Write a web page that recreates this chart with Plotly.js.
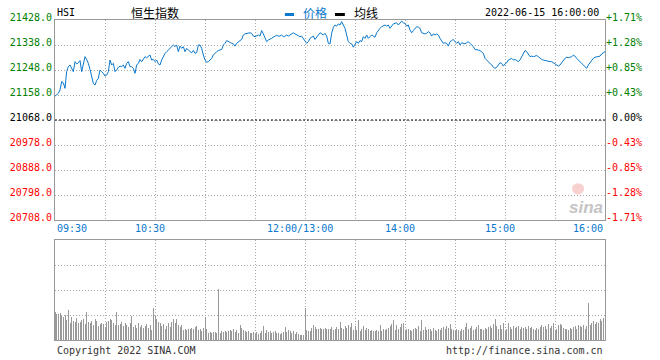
<!DOCTYPE html>
<html><head><meta charset="utf-8">
<script src="https://cdn.plot.ly/plotly-3.0.1.min.js"></script>
<style>html,body{margin:0;padding:0;background:#fff}#chart{width:660px;height:360px}</style>
</head><body><div id="chart"></div>
<script>
const prevClose = 21068;
const priceTicks = [20708, 20798, 20888, 20978, 21068, 21158, 21248, 21338, 21428];
const priceTickText = ['20708.0','20798.0','20888.0','20978.0','21068.0','21158.0','21248.0','21338.0','21428.0'];
const pctTickText = ['-1.71%','-1.28%','-0.85%','-0.43%','\u00a00.00%','+0.43%','+0.85%','+1.28%','+1.71%'];
const timeTickMinutes = [0, 60, 150, 210, 270, 330];
const timeTickText = ['09:30','10:30','12:00/13:00','14:00','15:00','16:00'];

// one value per trading minute, 09:30 ... 16:00 (lunch break removed)
const prices = [
21154,21158,21164,21176,21206,21202,21182,21242,21260,21266,
21254,21242,21278,21270,21274,21282,21242,21272,21296,21286,
21272,21250,21224,21200,21194,21210,21218,21248,21242,21236,
21226,21230,21242,21284,21266,21272,21242,21248,21258,21262,
21260,21266,21254,21272,21278,21260,21260,21254,21236,21266,
21272,21286,21278,21286,21296,21292,21296,21302,21284,21286,
21278,21284,21270,21266,21284,21296,21308,21314,21320,21326,
21332,21338,21332,21338,21314,21334,21326,21332,21314,21326,
21320,21314,21310,21318,21308,21310,21338,21338,21326,21302,
21284,21276,21278,21284,21290,21302,21310,21314,21318,21320,
21322,21338,21344,21354,21350,21346,21344,21342,21334,21344,
21350,21354,21358,21374,21378,21380,21382,21382,21380,21370,
21368,21370,21374,21370,21390,21378,21362,21350,21356,21358,
21362,21366,21370,21373,21370,21370,21374,21368,21370,21374,
21370,21374,21378,21382,21378,21374,21370,21368,21370,21362,
21356,21344,21350,21362,21366,21370,21358,21368,21374,21382,
21378,21374,21380,21370,21344,21342,21380,21402,21410,21406,
21414,21410,21422,21410,21398,21374,21350,21344,21342,21330,
21338,21350,21344,21354,21350,21368,21362,21374,21362,21370,
21374,21370,21366,21382,21392,21398,21404,21406,21410,21406,
21410,21398,21406,21414,21416,21418,21410,21416,21424,21418,
21416,21406,21410,21392,21382,21390,21398,21404,21402,21398,
21382,21380,21378,21380,21386,21382,21370,21378,21374,21378,
21374,21362,21350,21344,21346,21344,21334,21350,21354,21358,
21350,21344,21350,21338,21346,21344,21342,21346,21350,21344,
21338,21332,21322,21322,21320,21318,21314,21308,21290,21284,
21278,21274,21266,21258,21254,21258,21266,21274,21272,21262,
21270,21274,21284,21286,21290,21284,21286,21282,21278,21284,
21296,21308,21318,21314,21302,21296,21298,21296,21298,21300,
21296,21290,21286,21284,21282,21282,21280,21278,21278,21274,
21272,21266,21262,21266,21274,21284,21290,21294,21292,21294,
21296,21301,21298,21290,21284,21278,21274,21266,21260,21254,
21266,21274,21286,21290,21294,21296,21298,21298,21306,21310,21314
];
const volumes = [
28,26,26,27,24,23,25,20,30,17,
23,19,18,22,17,18,20,21,16,28,
18,17,19,15,21,19,14,16,17,16,
13,18,19,21,20,17,15,28,15,16,
18,14,17,15,13,17,24,13,15,12,
17,13,15,12,14,16,12,15,10,32,
24,21,18,17,14,16,11,14,17,13,
18,21,17,21,15,13,15,10,11,10,
11,11,12,11,13,14,10,11,9,12,
23,11,7,8,7,8,8,7,51,7,
9,8,9,8,9,10,9,11,8,10,
7,15,12,10,9,8,9,7,7,8,
6,8,6,7,9,14,7,10,8,9,
7,8,9,7,7,6,7,8,13,8,
10,9,7,9,6,8,6,5,5,5,
32,10,9,9,12,15,13,11,11,12,
11,11,12,11,11,11,13,10,11,13,
11,18,12,11,14,12,15,13,17,10,
14,10,20,9,11,14,10,12,11,9,
10,9,9,10,9,15,9,11,10,11,
12,14,16,20,10,15,11,13,16,17,
10,11,11,10,9,11,12,11,14,9,
20,10,13,10,11,11,9,12,10,9,
11,10,12,13,11,14,12,16,11,10,
9,11,10,9,11,10,13,17,11,12,
14,10,11,13,15,11,11,10,12,11,
13,14,12,16,21,14,11,15,11,17,
9,11,17,13,11,14,12,13,14,11,
13,12,13,11,14,12,13,11,10,12,
11,13,15,13,14,11,16,12,14,17,
10,11,15,16,15,12,11,11,10,12,
11,13,14,11,15,14,13,15,11,14,
37,15,17,19,16,18,17,21,19,22,26
];

const GREEN = '#008000', RED = '#ff0000', BLUE = '#0a78cc', GRID = '#aaaaaa', FRAME = '#999999';
const MONO = 'DejaVu Sans Mono, monospace';
const CJK = 'Noto Sans CJK SC, sans-serif';
function tone(v){ return v > prevClose ? GREEN : (v < prevClose ? RED : '#000000'); }
const leftText = priceTicks.map((v,i)=>'<span style="color:'+tone(v)+'">'+priceTickText[i]+'</span>');
const rightText = priceTicks.map((v,i)=>'<span style="color:'+tone(v)+'">'+pctTickText[i]+'</span>');
const minutes = prices.map((_,i)=>i);
const lastMinute = timeTickMinutes[timeTickMinutes.length-1];

const traces = [
  {type:'scatter', mode:'lines', x:[0,lastMinute], y:[prevClose,prevClose], xaxis:'x', yaxis:'y',
   line:{color:'#000', width:1, dash:'2px,2px'}, hoverinfo:'skip'},
  {type:'scatter', mode:'lines', x:minutes, y:prices, xaxis:'x', yaxis:'y',
   line:{color:BLUE, width:1}},
  {type:'scatter', mode:'lines', x:[0], y:[prevClose], xaxis:'x', yaxis:'y2', line:{width:0}, hoverinfo:'skip'},
  {type:'bar', x:minutes, y:volumes, xaxis:'x2', yaxis:'y3', width:0.6,
   marker:{color:'#999999', line:{width:0}}}
];

const gridDash = '1px,2px';
const xCommon = {range:[0,lastMinute], tickmode:'linear', tick0:0, dtick:30, showgrid:true, gridcolor:GRID,
  griddash:gridDash, gridwidth:1, showticklabels:false, ticks:'', zeroline:false, showline:true, mirror:true,
  linecolor:FRAME, linewidth:1, fixedrange:true};

const annotations = [];
timeTickMinutes.forEach((m,i)=>{
  annotations.push({xref:'x', yref:'paper', x:m, y:0.347, text:timeTickText[i], showarrow:false,
    xanchor: i===0 ? 'left' : (i===timeTickMinutes.length-1 ? 'right' : 'center'), yanchor:'middle',
    xshift: (i===0 || i===timeTickMinutes.length-1) ? 0 : -5,
    font:{family:MONO, size:10, color:BLUE}});
});
annotations.push(
  {xref:'paper', yref:'paper', x:0, y:1.025, text:'HSI', showarrow:false, xanchor:'left', yanchor:'middle', font:{family:MONO,size:10,color:'#000'}},
  {xref:'paper', yref:'paper', x:0.181, y:1.025, text:'恒生指数', showarrow:false, xanchor:'center', yanchor:'middle', font:{family:CJK,size:12,color:'#000'}},
  {xref:'paper', yref:'paper', x:0.447, y:1.025, text:'价格', showarrow:false, xanchor:'left', yanchor:'middle', font:{family:CJK,size:12,color:BLUE}},
  {xref:'paper', yref:'paper', x:0.54, y:1.025, text:'均线', showarrow:false, xanchor:'left', yanchor:'middle', font:{family:CJK,size:12,color:'#000'}},
  {xref:'paper', yref:'paper', x:0.9927, y:1.025, text:'2022-06-15 16:00:00', showarrow:false, xanchor:'right', yanchor:'middle', font:{family:MONO,size:10,color:'#000'}},
  {xref:'paper', yref:'paper', x:0, y:-0.034, text:'Copyright 2022 SINA.COM', showarrow:false, xanchor:'left', yanchor:'middle', font:{family:MONO,size:10,color:'#333'}},
  {xref:'paper', yref:'paper', x:1, y:-0.034, text:'http://finance.sina.com.cn', showarrow:false, xanchor:'right', yanchor:'middle', font:{family:MONO,size:10,color:'#333'}},
  {xref:'paper', yref:'paper', x:0.966, y:0.415, text:'<b><i>sina</i></b>', showarrow:false, xanchor:'center', yanchor:'middle', font:{family:'Liberation Sans, Arial',size:17,color:'#c4c4c4'}}
);

const layout = {
  width:660, height:360, margin:{l:55, r:55, t:20, b:20}, paper_bgcolor:'#fff', plot_bgcolor:'#fff',
  showlegend:false, hovermode:false, bargap:0,
  font:{family:MONO, size:10, color:'#000'},
  xaxis: Object.assign({}, xCommon, {domain:[0,1], anchor:'y'}),
  yaxis: {domain:[0.375,1], range:[priceTicks[0], priceTicks[priceTicks.length-1]], tickmode:'array',
    tickvals:priceTicks, ticktext:leftText, showgrid:true, gridcolor:GRID, griddash:gridDash, zeroline:false,
    showline:true, mirror:true, linecolor:FRAME, linewidth:1, ticks:'', ticklabelshift:-3, fixedrange:true,
    tickfont:{family:MONO, size:10}},
  yaxis2: {overlaying:'y', side:'right', anchor:'x', range:[priceTicks[0], priceTicks[priceTicks.length-1]],
    tickmode:'array', tickvals:priceTicks, ticktext:rightText, showgrid:false, zeroline:false, showline:false,
    ticks:'', ticklabelshift:-3, fixedrange:true, tickfont:{family:MONO, size:10}},
  xaxis2: Object.assign({}, xCommon, {domain:[0,1], anchor:'y3'}),
  yaxis3: {domain:[0,0.3125], range:[0,100], tickmode:'linear', tick0:0, dtick:25, showgrid:true, gridcolor:GRID,
    griddash:gridDash, showticklabels:false, ticks:'', zeroline:false, showline:true, mirror:true,
    linecolor:FRAME, linewidth:1, fixedrange:true},
  shapes: [
    {type:'rect', xref:'paper', yref:'paper', x0:0.418, x1:0.4345, y0:1.0125, y1:1.0219, fillcolor:BLUE, line:{width:0}},
    {type:'rect', xref:'paper', yref:'paper', x0:0.509, x1:0.527, y0:1.0125, y1:1.0219, fillcolor:'#000', line:{width:0}},
    {type:'circle', xref:'paper', yref:'paper', x0:0.94, x1:0.962, y0:0.455, y1:0.49, fillcolor:'rgba(235,120,120,0.35)', line:{width:0}}
  ],
  annotations: annotations
};

Plotly.newPlot('chart', traces, layout, {displayModeBar:false, staticPlot:true});
</script>
</body></html>
